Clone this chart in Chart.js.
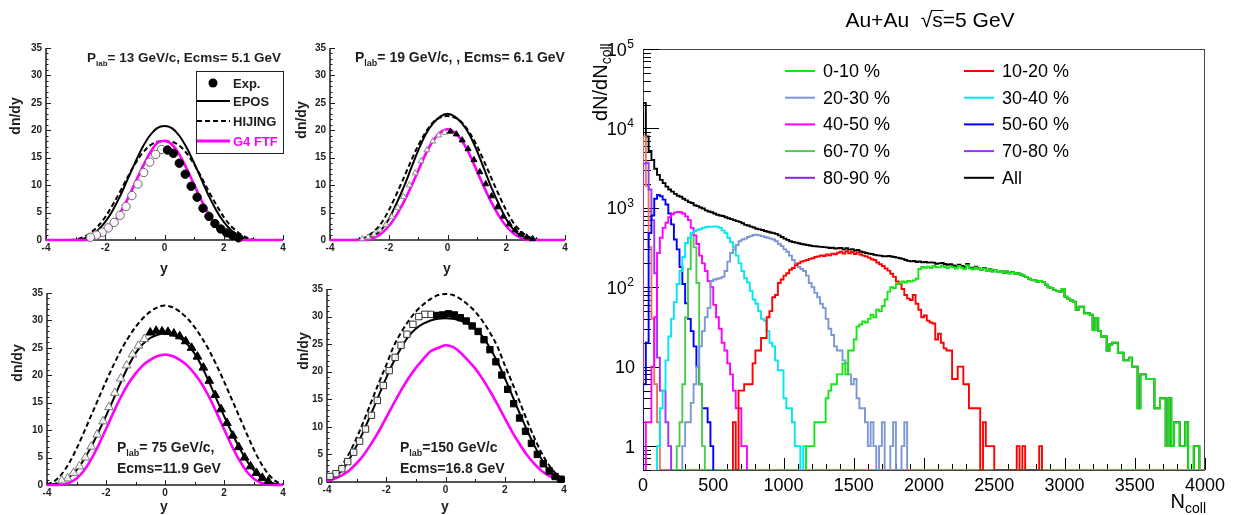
<!DOCTYPE html>
<html>
<head>
<meta charset="utf-8">
<script src="https://cdn.jsdelivr.net/npm/chart.js@4.4.1/dist/chart.umd.min.js"></script>
<style>
  html, body { margin: 0; padding: 0; background: #fff; }
  #wrap { position: relative; width: 1236px; height: 515px; overflow: hidden; }
  canvas { position: absolute; left: 0; top: 0; }
</style>
</head>
<body>
<div id="wrap">
  <canvas id="c1" width="1236" height="515"></canvas>
  <canvas id="c2" width="1236" height="515"></canvas>
  <canvas id="c3" width="1236" height="515"></canvas>
  <canvas id="c4" width="1236" height="515"></canvas>
  <canvas id="c5" width="1236" height="515"></canvas>
</div>
<script>
// ---------- left panels: dn/dy vs y ----------
const Y_GRID = [-4, -3.75, -3.5, -3.25, -3, -2.75, -2.5, -2.25, -2, -1.75, -1.5, -1.25, -1, -0.75, -0.5, -0.25, 0,
  0.25, 0.5, 0.75, 1, 1.25, 1.5, 1.75, 2, 2.25, 2.5, 2.75, 3, 3.25, 3.5, 3.75, 4];
const DNDY_TICKS = [0, 5, 10, 15, 20, 25, 30, 35];
const RAP_TICKS = [-4, -2, 0, 2, 4];

// Plab = 13 GeV/c
const p1Epos   = [0, 0, 0, 0, 0, 0.2, 0.8, 1.8, 3.3, 5.4, 8.0, 11.0, 14.0, 16.8, 19.0, 20.4, 20.8, 20.4, 19.0, 16.8, 14.0, 11.0, 8.0, 5.4, 3.3, 1.8, 0.8, 0.2, 0, 0, 0, 0, 0];
const p1Hijing = [0, 0, 0, 0, 0.1, 0.5, 1.3, 2.5, 4.2, 6.4, 8.8, 11.4, 13.8, 15.8, 17.2, 17.9, 18.0, 17.9, 17.2, 15.8, 13.8, 11.4, 8.8, 6.4, 4.2, 2.5, 1.3, 0.5, 0.1, 0, 0, 0, 0];
const p1G4     = [0, 0, 0, 0, 0, 0, 0.1, 0.6, 1.5, 2.9, 4.9, 7.4, 10.3, 13.2, 15.8, 17.7, 18.1, 17.4, 15.6, 13.0, 10.1, 7.2, 4.7, 2.8, 1.4, 0.5, 0.1, 0, 0, 0, 0, 0, 0];
const p1FilledX = [0.1, 0.3, 0.5, 0.7, 0.9, 1.1, 1.3, 1.5, 1.7, 1.9, 2.1, 2.3, 2.5];
const p1Filled  = [16.4, 15.8, 14.0, 12.0, 9.8, 7.8, 5.8, 4.3, 3.0, 2.0, 1.3, 0.8, 0.4];
const p1OpenX   = [-0.1, -0.3, -0.5, -0.7, -0.9, -1.1, -1.3, -1.5, -1.7, -1.9, -2.1, -2.3, -2.5];
const p1Open    = [16.5, 15.6, 14.2, 12.3, 10.2, 8.1, 6.1, 4.5, 3.2, 2.2, 1.4, 0.9, 0.5];

// Plab = 19 GeV/c
const p2Epos   = [0, 0, 0, 0, 0, 0.25, 0.8, 1.9, 3.8, 6.5, 9.5, 12.9, 16.3, 19.2, 21.2, 22.5, 23.0, 22.5, 21.2, 19.2, 16.3, 12.9, 9.5, 6.5, 3.8, 1.9, 0.8, 0.25, 0, 0, 0, 0, 0];
const p2Hijing = [0, 0, 0, 0, 0.15, 0.6, 1.6, 3.1, 5.4, 8.2, 11.2, 14.3, 17.2, 19.6, 21.4, 22.3, 22.6, 22.3, 21.4, 19.6, 17.2, 14.3, 11.2, 8.2, 5.4, 3.1, 1.6, 0.6, 0.15, 0, 0, 0, 0];
const p2G4     = [0, 0, 0, 0, 0, 0, 0.4, 1.2, 2.5, 4.4, 6.8, 9.6, 12.6, 15.6, 18.0, 19.6, 20.2, 19.6, 18.0, 15.6, 12.6, 9.6, 6.8, 4.4, 2.5, 1.2, 0.4, 0, 0, 0, 0, 0, 0];
const p2FilledX = [0.1, 0.3, 0.5, 0.7, 0.9, 1.1, 1.3, 1.5, 1.7, 1.9, 2.1, 2.3, 2.5, 2.7, 2.9];
const p2Filled  = [19.8, 19.3, 18.2, 16.6, 14.6, 12.4, 10.2, 8.0, 6.0, 4.3, 2.9, 1.8, 1.0, 0.5, 0.2];
const p2OpenX   = [-0.1, -0.3, -0.5, -0.7, -0.9, -1.1, -1.3, -1.5, -1.7, -1.9, -2.1, -2.3, -2.5, -2.7, -2.9];
const p2Open    = [19.6, 19.1, 18.0, 16.4, 14.4, 12.2, 10.0, 7.9, 5.9, 4.2, 2.8, 1.8, 1.0, 0.5, 0.2];

// Plab = 75 GeV/c
const p3Epos   = [0, 0.2, 0.6, 1.4, 2.7, 4.6, 7.0, 9.7, 12.6, 15.6, 18.7, 21.6, 24.0, 25.7, 26.8, 27.4, 27.6, 27.4, 26.8, 25.7, 24.0, 21.6, 18.7, 15.6, 12.6, 9.7, 7.0, 4.6, 2.7, 1.4, 0.6, 0.2, 0];
const p3Hijing = [0.1, 0.7, 2.0, 4.0, 6.6, 9.6, 12.7, 15.8, 18.9, 21.8, 24.5, 26.8, 28.8, 30.4, 31.6, 32.4, 32.7, 32.4, 31.6, 30.4, 28.8, 26.8, 24.5, 21.8, 18.9, 15.8, 12.7, 9.6, 6.6, 4.0, 2.0, 0.7, 0.1];
const p3G4     = [0, 0, 0.1, 0.4, 1.2, 2.6, 4.7, 7.3, 10.2, 13.2, 16.0, 18.4, 20.3, 21.8, 22.8, 23.5, 23.8, 23.5, 22.8, 21.8, 20.3, 18.4, 16.0, 13.2, 10.2, 7.3, 4.7, 2.6, 1.2, 0.4, 0.1, 0, 0];
const p3FilledX = [-0.5, -0.3, -0.1, 0.1, 0.3, 0.5, 0.7, 0.9, 1.1, 1.3, 1.5, 1.7, 1.9, 2.1, 2.3, 2.5, 2.7, 2.9, 3.1, 3.3, 3.5];
const p3Filled  = [27.8, 28.1, 28.0, 27.9, 27.6, 27.1, 26.2, 25.0, 23.4, 21.4, 19.0, 16.4, 13.8, 11.3, 9.0, 6.9, 5.0, 3.4, 2.2, 1.3, 0.7];
const p3OpenX   = [-0.7, -0.9, -1.1, -1.3, -1.5, -1.7, -1.9, -2.1, -2.3, -2.5, -2.7, -2.9, -3.1, -3.3, -3.5];
const p3Open    = [26.6, 25.4, 23.8, 21.8, 19.4, 16.8, 14.2, 11.6, 9.2, 7.0, 5.0, 3.4, 2.2, 1.2, 0.8];

// Plab = 150 GeV/c
const p4Epos   = [0.2, 0.8, 2.1, 4.1, 6.6, 9.4, 12.5, 15.7, 18.9, 21.8, 24.3, 26.4, 27.8, 28.7, 29.3, 29.6, 29.7, 29.6, 29.3, 28.7, 27.8, 26.4, 24.3, 21.8, 18.9, 15.7, 12.5, 9.4, 6.6, 4.1, 2.1, 0.8, 0.2];
const p4Hijing = [0.5, 1.4, 3.0, 5.2, 8.0, 11.2, 14.6, 18.0, 21.2, 24.6, 27.1, 29.2, 30.9, 32.2, 33.2, 33.9, 34.1, 33.9, 33.2, 32.2, 30.9, 29.2, 27.1, 24.6, 21.2, 18.0, 14.6, 11.2, 8.0, 5.2, 3.0, 1.4, 0.5];
const p4G4     = [0.2, 0.6, 1.2, 2.1, 3.4, 5.0, 7.0, 9.2, 11.7, 14.2, 16.6, 18.8, 20.7, 22.3, 23.7, 24.3, 24.8, 24.5, 23.5, 22.1, 20.6, 18.7, 16.5, 14.1, 11.6, 9.1, 6.9, 4.9, 3.3, 2.0, 1.1, 0.5, 0.2];
const p4FilledX = [-0.3, -0.1, 0.1, 0.3, 0.5, 0.7, 0.9, 1.1, 1.3, 1.5, 1.7, 1.9, 2.1, 2.3, 2.5, 2.7, 2.9, 3.1, 3.3, 3.5, 3.7, 3.9];
const p4Filled  = [30.2, 30.3, 30.5, 30.3, 29.8, 29.2, 28.3, 27.3, 25.8, 24.0, 21.8, 19.4, 16.8, 14.2, 11.6, 9.2, 7.0, 5.0, 3.3, 2.0, 1.0, 0.5];
const p4OpenX   = [-0.5, -0.7, -0.9, -1.1, -1.3, -1.5, -1.7, -1.9, -2.1, -2.3, -2.5, -2.7, -2.9, -3.1, -3.3, -3.5, -3.7, -3.9];
const p4Open    = [30.4, 30.4, 30.0, 28.6, 26.8, 24.8, 22.6, 20.2, 17.5, 14.8, 12.1, 9.6, 7.4, 5.4, 3.7, 2.4, 1.5, 1.0];

// ---------- right panel: dN/dNcoll histograms, 20-wide bins ----------
const BIN = 20;
const FLOOR = 0.5;
const NCOLL_TICKS = [0, 500, 1000, 1500, 2000, 2500, 3000, 3500, 4000];
const LOG_TICKS = [1, 10, 100, 1000, 10000, 100000];

const allStart = 0;
const allVals = [
  21000, 7900, 5200, 4000, 3100, 2600, 2250, 2050, 1850, 1700,
  1600, 1500, 1420, 1380, 1300, 1240, 1180, 1150, 1080, 1050,
  1010, 980, 930, 900, 880, 850, 820, 800, 790, 760,
  740, 720, 700, 680, 665, 640, 610, 600, 580, 565,
  545, 535, 525, 510, 500, 490, 480, 470, 450, 430,
  410, 395, 380, 372, 365, 358, 350, 345, 340, 335,
  330, 328, 325, 322, 320, 318, 312, 315, 308, 310,
  312, 300, 310, 298, 302, 290, 295, 282, 276, 270,
  265, 262, 256, 252, 250, 246, 245, 248, 244, 240,
  236, 232, 228, 220, 215, 212, 214, 208, 212, 206,
  208, 204, 206, 204, 198, 200, 202, 196, 192, 195,
  188, 184, 192, 186, 180, 196, 176, 172, 181, 173,
  166, 175, 161, 169, 159, 165, 155, 160, 152, 158,
  150, 155, 148, 150, 145, 140, 135, 128, 124, 122,
  118, 120, 117, 108, 100, 98, 92, 90, 88, 95,
  76, 72, 68, 66, 52, 57, 57, 47, 47, 45,
  29, 41, 28, 24, 24, 16, 19, 20, 20, 15,
  15, 12, 12, 13, 10, 10, 3, 8, 8, 7,
  7, 7, 3, 3, 4, 4, 1, 4, 1, 2,
  2, 1, 1, 2, 0, 0, 1, 1];

const c0010Start = 1160;
const c0010 = [
  1, 1, 1, 2, 2, 2, 2, 4, 5, 6,
  6, 8, 8, 11, 8, 16, 16, 22, 32, 34,
  37, 36, 40, 45, 42, 52, 50, 58, 70, 88,
  100, 98, 110, 112, 118, 115, 120, 118, 122, 128,
  170, 180, 176, 182, 175, 185, 180, 178, 186, 180,
  175, 183, 178, 172, 185, 176, 170, 190, 172, 168,
  178, 170, 165, 172, 160, 168, 158, 165, 155, 160,
  152, 158, 150, 155, 148, 150, 145, 140, 135, 128,
  124, 122, 118, 120, 117, 108, 100, 98, 92, 90,
  88, 95, 76, 72, 68, 66, 52, 57, 57, 47,
  47, 45, 29, 41, 28, 24, 24, 16, 19, 20,
  20, 15, 15, 12, 12, 13, 10, 10, 3, 8,
  8, 7, 7, 7, 3, 3, 4, 4, 1, 4,
  1, 2, 2, 1, 1, 2, 0, 0, 1, 1];

const c1020Start = 640;
const c1020 = [
  2, 0, 5, 5, 6, 6, 6, 11, 16, 16,
  23, 23, 42, 50, 75, 80, 113, 125, 140, 150,
  166, 175, 190, 200, 210, 215, 220, 228, 232, 240,
  245, 252, 248, 258, 252, 265, 260, 272, 280, 265,
  285, 268, 280, 262, 275, 258, 250, 245, 236, 225,
  220, 205, 195, 185, 172, 162, 148, 135, 118, 110,
  95, 80, 72, 69, 80, 62, 52, 42, 44, 38,
  36, 35, 22, 26, 20, 17, 16, 16, 7, 7,
  10, 10, 6, 6, 3, 3, 3, 3, 0, 2,
  1, 1, 1, 0, 0, 0, 0, 0, 0, 0,
  0, 1, 0, 1, 0, 0, 0, 0, 0, 1];

const c2030Start = 280;
const c2030 = [
  1, 2, 2, 3.5, 6, 10, 18, 28, 42, 55,
  120, 125, 128, 130, 135, 160, 210, 270, 300, 340,
  380, 400, 410, 430, 440, 455, 460, 450, 440, 430,
  420, 410, 400, 380, 350, 330, 300, 280, 250, 220,
  200, 180, 170, 160, 140, 113, 100, 85, 75, 62,
  55, 40, 30, 25, 18, 16, 16, 12, 11, 8,
  6, 7, 4, 3, 3, 2, 1, 2, 1, 0,
  1, 2, 0, 0, 1, 2, 0, 0, 1, 2];

const c3040Start = 100;
const c3040 = [
  1, 3, 5, 12, 24, 40, 65, 110, 160, 240,
  360, 420, 480, 510, 530, 540, 560, 570, 580, 575,
  585, 580, 560, 520, 480, 420, 370, 320, 250, 200,
  160, 130, 115, 90, 70, 62, 50, 40, 38, 28,
  20, 18, 12, 9, 9, 4, 3, 3, 2, 1,
  1, 0, 1];

const c4050Start = 20;
const c4050 = [
  2, 2, 10, 42, 270, 420, 560, 650, 760, 830,
  870, 890, 880, 850, 780, 700, 560, 450, 350, 250,
  200, 160, 120, 100, 60, 42, 30, 20, 16, 11,
  8, 5, 3, 3, 1, 1];

const c5060Start = 0;
const c5060 = [
  6, 20, 480, 800, 1300, 1450, 1400, 1270, 1100, 850,
  620, 400, 300, 180, 110, 63, 40, 28, 18, 10,
  6, 3, 3, 2, 1];

const c6070Start = 240;
const c6070 = [1, 2, 6, 42, 170, 480, 320, 113, 6, 1];

const c7080Start = 0;
const c7080 = [3600, 3700, 1700, 700, 150, 13, 5, 5, 2, 1];

const c90Start = 0;
const c90 = [7900, 1900, 320, 40, 6, 2];

const legendLabels = ['0-10 %', '10-20 %', '20-30 %', '30-40 %', '40-50 %', '50-60 %', '60-70 %', '70-80 %', '80-90 %', 'All'];
const legendColors = ['#14e814', '#ff0000', '#7b97d4', '#00e8f0', '#ff00ff', '#0000ff', '#4ccc4c', '#9933ff', '#8a22ee', '#000000'];

// ---------- helpers ----------
const FONT = '"Liberation Sans", Arial, Helvetica, sans-serif';
const W = 1236, H = 515;

function pts(xs, ys) { return xs.map((x, i) => ({ x, y: ys[i] })); }

function histPoints(start, vals, end) {
  const out = [{ x: start, y: FLOOR }];
  vals.forEach((v, i) => out.push({ x: start + i * BIN, y: v > 0 ? v : FLOOR }));
  const stop = start + vals.length * BIN;
  out.push({ x: stop, y: FLOOR });
  if (end && end > stop) out.push({ x: end, y: FLOOR });
  return out;
}

function drawPlab(ctx, x, y, size, rest) {
  ctx.font = `bold ${size}px ${FONT}`;
  ctx.fillText('P', x, y);
  let w = ctx.measureText('P').width;
  ctx.font = `bold ${Math.round(size * 0.62)}px ${FONT}`;
  ctx.fillText('lab', x + w, y + size * 0.3);
  w += ctx.measureText('lab').width;
  ctx.font = `bold ${size}px ${FONT}`;
  ctx.fillText(rest, x + w, y);
}

function panelDecor(spec) {
  return {
    id: 'panelDecor',
    beforeDatasetsDraw(chart) {
      const { ctx, chartArea: a, scales: { x, y } } = chart;
      ctx.save();
      ctx.strokeStyle = '#1e1e1e';
      ctx.lineWidth = 1.5;
      ctx.beginPath();
      ctx.moveTo(a.left, a.top);
      ctx.lineTo(a.left, a.bottom);
      ctx.lineTo(a.right, a.bottom);
      ctx.stroke();
      ctx.lineWidth = 1;
      ctx.beginPath();
      for (let v = 0; v <= 35; v++) {
        const py = Math.round(y.getPixelForValue(v)) + 0.5;
        const len = v % 5 === 0 ? 5 : 2.5;
        ctx.moveTo(a.left, py);
        ctx.lineTo(a.left + len, py);
      }
      for (let v = -4; v <= 4; v++) {
        const px = Math.round(x.getPixelForValue(v)) + 0.5;
        const len = v % 2 === 0 ? 5 : 3;
        ctx.moveTo(px, a.bottom);
        ctx.lineTo(px, a.bottom - len);
      }
      ctx.stroke();
      ctx.restore();
    },
    afterDraw(chart) {
      const { ctx, chartArea: a, scales: { x, y } } = chart;
      ctx.save();
      ctx.fillStyle = '#1e1e1e';
      ctx.font = `bold 10px ${FONT}`;
      ctx.textAlign = 'right';
      ctx.textBaseline = 'middle';
      DNDY_TICKS.forEach(v => ctx.fillText(String(v), a.left - 4, y.getPixelForValue(v)));
      ctx.textAlign = 'center';
      ctx.textBaseline = 'top';
      RAP_TICKS.forEach(v => ctx.fillText(String(v), x.getPixelForValue(v), a.bottom + 3));

      // axis titles
      ctx.font = `bold 14px ${FONT}`;
      ctx.textBaseline = 'middle';
      ctx.fillText('y', spec.xTitle[0], spec.xTitle[1]);
      ctx.save();
      ctx.translate(spec.yTitle[0], spec.yTitle[1]);
      ctx.rotate(-Math.PI / 2);
      ctx.fillText('dn/dy', 0, 0);
      ctx.restore();

      // energy labels
      ctx.textAlign = 'left';
      ctx.textBaseline = 'alphabetic';
      spec.text.forEach(t => {
        if (t.plab) drawPlab(ctx, t.x, t.y, t.size, t.rest);
        else { ctx.font = `bold ${t.size}px ${FONT}`; ctx.fillText(t.rest, t.x, t.y); }
      });

      if (spec.legend) {
        ctx.strokeStyle = '#222';
        ctx.lineWidth = 1;
        ctx.strokeRect(196.5, 71.5, 87, 82);
        ctx.fillStyle = '#000';
        ctx.beginPath();
        ctx.arc(213, 83, 4.5, 0, Math.PI * 2);
        ctx.fill();
        const rows = [
          { y: 101, color: '#000', dash: [], w: 2.2 },
          { y: 121, color: '#000', dash: [5, 3], w: 2.2 },
          { y: 141, color: '#ff00ff', dash: [], w: 3 }];
        rows.forEach(r => {
          ctx.strokeStyle = r.color;
          ctx.lineWidth = r.w;
          ctx.setLineDash(r.dash);
          ctx.beginPath();
          ctx.moveTo(197, r.y);
          ctx.lineTo(230, r.y);
          ctx.stroke();
        });
        ctx.setLineDash([]);
        ctx.font = `bold 13px ${FONT}`;
        ctx.textBaseline = 'middle';
        ctx.fillStyle = '#1e1e1e';
        ctx.fillText('Exp.', 233, 84);
        ctx.fillText('EPOS', 233, 102);
        ctx.fillText('HIJING', 233, 122);
        ctx.fillStyle = '#ff00ff';
        ctx.fillText('G4 FTF', 233, 142);
      }
      ctx.restore();
    }
  };
}

function makePanel(spec) {
  const [L, T, R, B] = spec.area;
  const m = spec.marker;
  new Chart(document.getElementById(spec.canvas), {
    type: 'scatter',
    data: {
      datasets: [
        { data: pts(spec.filledX, spec.filled), pointStyle: m.style, pointRadius: m.r,
          backgroundColor: '#000', borderColor: '#000', borderWidth: 1, clip: false },
        { data: pts(spec.openX, spec.open), pointStyle: m.style, pointRadius: m.r,
          backgroundColor: 'rgba(255,255,255,0.9)', borderColor: m.openColor, borderWidth: 1, clip: false },
        { data: pts(Y_GRID, spec.g4), showLine: true, pointRadius: 0, borderColor: '#ff00ff', borderWidth: 2.6, clip: false },
        { data: pts(Y_GRID, spec.epos), showLine: true, pointRadius: 0, borderColor: '#000', borderWidth: 2, clip: false },
        { data: pts(Y_GRID, spec.hijing), showLine: true, pointRadius: 0, borderColor: '#000', borderWidth: 2,
          borderDash: [5, 3], clip: false }
      ]
    },
    options: {
      animation: false, responsive: false, devicePixelRatio: 1,
      layout: { padding: { left: L, top: T, right: W - R, bottom: H - B } },
      elements: { line: { cubicInterpolationMode: 'monotone' } },
      scales: {
        x: { type: 'linear', min: -4, max: 4, display: false },
        y: { type: 'linear', min: 0, max: 35, display: false }
      },
      plugins: { legend: { display: false }, tooltip: { enabled: false } }
    },
    plugins: [panelDecor(spec)]
  });
}

makePanel({
  canvas: 'c1', area: [46, 48, 283, 240],
  epos: p1Epos, hijing: p1Hijing, g4: p1G4,
  filledX: p1FilledX, filled: p1Filled, openX: p1OpenX, open: p1Open,
  marker: { style: 'circle', r: 4.2, openColor: '#666' },
  yTitle: [16, 116], xTitle: [164, 269],
  text: [{ plab: true, x: 87, y: 62, size: 13.5, rest: '= 13 GeV/c, Ecms= 5.1 GeV' }],
  legend: true
});
makePanel({
  canvas: 'c2', area: [330, 48, 565, 240],
  epos: p2Epos, hijing: p2Hijing, g4: p2G4,
  filledX: p2FilledX, filled: p2Filled, openX: p2OpenX, open: p2Open,
  marker: { style: 'triangle', r: 3.5, openColor: '#888' },
  yTitle: [302, 120], xTitle: [447, 269],
  text: [{ plab: true, x: 355, y: 62, size: 14, rest: '= 19 GeV/c, , Ecms= 6.1 GeV' }]
});
makePanel({
  canvas: 'c3', area: [47, 293, 283, 485],
  epos: p3Epos, hijing: p3Hijing, g4: p3G4,
  filledX: p3FilledX, filled: p3Filled, openX: p3OpenX, open: p3Open,
  marker: { style: 'triangle', r: 5, openColor: '#777' },
  yTitle: [18, 363], xTitle: [164, 507],
  text: [{ plab: true, x: 117, y: 452, size: 14, rest: '= 75 GeV/c,' },
         { plab: false, x: 117, y: 473, size: 14, rest: 'Ecms=11.9 GeV' }]
});
makePanel({
  canvas: 'c4', area: [327, 289, 564, 482],
  epos: p4Epos, hijing: p4Hijing, g4: p4G4,
  filledX: p4FilledX, filled: p4Filled, openX: p4OpenX, open: p4Open,
  marker: { style: 'rect', r: 4.5, openColor: '#333' },
  yTitle: [304, 351], xTitle: [445, 507],
  text: [{ plab: true, x: 400, y: 452, size: 14, rest: '=150 GeV/c' },
         { plab: false, x: 400, y: 473, size: 14, rest: 'Ecms=16.8 GeV' }]
});

// ---------- right panel ----------
const rightDecor = {
  id: 'rightDecor',
  beforeDatasetsDraw(chart) {
    const { ctx, chartArea: a, scales: { x, y } } = chart;
    ctx.save();
    ctx.strokeStyle = '#444';
    ctx.lineWidth = 1;
    ctx.strokeRect(a.left + 0.5, a.top + 0.5, a.right - a.left - 1, a.bottom - a.top);
    ctx.strokeStyle = '#000';
    ctx.beginPath();
    for (let n = 0; n <= 4000; n += 100) {
      const px = Math.round(x.getPixelForValue(n)) + 0.5;
      const len = n % 500 === 0 ? 12 : 6;
      ctx.moveTo(px, a.bottom);
      ctx.lineTo(px, a.bottom - len);
    }
    for (let k = -1; k <= 4; k++) {
      for (let m = 1; m <= 9; m++) {
        const v = m * Math.pow(10, k);
        if (v < FLOOR || v > 1e5) continue;
        const py = Math.round(y.getPixelForValue(v)) + 0.5;
        const len = m === 1 ? 16 : 8;
        ctx.moveTo(a.left, py);
        ctx.lineTo(a.left + len, py);
      }
    }
    const top = Math.round(y.getPixelForValue(1e5)) + 0.5;
    ctx.moveTo(a.left, top);
    ctx.lineTo(a.left + 16, top);
    ctx.stroke();
    ctx.restore();
  },
  afterDraw(chart) {
    const { ctx, chartArea: a, scales: { x, y } } = chart;
    ctx.save();
    ctx.fillStyle = '#000';
    ctx.textBaseline = 'alphabetic';

    // x tick labels
    ctx.font = `18px ${FONT}`;
    ctx.textAlign = 'center';
    NCOLL_TICKS.forEach(n => ctx.fillText(String(n), x.getPixelForValue(n), 491));

    // y tick labels with superscripts
    ctx.textAlign = 'right';
    LOG_TICKS.forEach(v => {
      const py = y.getPixelForValue(v);
      const e = Math.round(Math.log10(v));
      if (e <= 1) {
        ctx.font = `18px ${FONT}`;
        ctx.fillText(String(v), 635, py + 6.5);
      } else {
        ctx.font = `12px ${FONT}`;
        ctx.fillText(String(e), 634, py - 1);
        const w = ctx.measureText(String(e)).width;
        ctx.font = `18px ${FONT}`;
        ctx.fillText('10', 634 - w - 0.5, py + 6.5);
      }
    });

    // x title N_coll
    ctx.font = `14px ${FONT}`;
    ctx.fillText('coll', 1206, 513);
    const wc = ctx.measureText('coll').width;
    ctx.font = `20px ${FONT}`;
    ctx.fillText('N', 1206 - wc, 508);

    // y title dN/dN_coll
    ctx.save();
    ctx.translate(607, 121);
    ctx.rotate(-Math.PI / 2);
    ctx.textAlign = 'left';
    ctx.font = `20px ${FONT}`;
    ctx.fillText('dN/dN', 0, 0);
    const wd = ctx.measureText('dN/dN').width;
    ctx.font = `14px ${FONT}`;
    ctx.fillText('coll', wd, 4);
    ctx.restore();

    // title
    const title = 'Au+Au  \u221As=5 GeV';
    ctx.font = `21px ${FONT}`;
    ctx.textAlign = 'left';
    const tw = ctx.measureText(title).width;
    const tx = 930 - tw / 2;
    ctx.fillText(title, tx, 27);
    const xs = tx + ctx.measureText('Au+Au  \u221A').width;
    const ws = ctx.measureText('s').width;
    ctx.strokeStyle = '#000';
    ctx.lineWidth = 1;
    ctx.beginPath();
    ctx.moveTo(xs - 1, 10.5);
    ctx.lineTo(xs + ws + 0.5, 10.5);
    ctx.stroke();

    // legend, two columns
    ctx.font = `18px ${FONT}`;
    ctx.textBaseline = 'middle';
    legendLabels.forEach((lab, i) => {
      const col = i % 2, row = Math.floor(i / 2);
      const ly = 71 + row * 26.7;
      const x1 = col === 0 ? 785 : 964;
      ctx.strokeStyle = legendColors[i];
      ctx.lineWidth = 2;
      ctx.beginPath();
      ctx.moveTo(x1, ly);
      ctx.lineTo(x1 + 30, ly);
      ctx.stroke();
      ctx.fillStyle = '#000';
      ctx.fillText(lab, x1 + 38, ly + 1);
    });
    ctx.restore();
  }
};

const hists = [
  { start: c0010Start, vals: c0010, color: legendColors[0] },
  { start: c1020Start, vals: c1020, color: legendColors[1] },
  { start: c2030Start, vals: c2030, color: legendColors[2] },
  { start: c3040Start, vals: c3040, color: legendColors[3] },
  { start: c4050Start, vals: c4050, color: legendColors[4] },
  { start: c6070Start, vals: c6070, color: legendColors[6] },
  { start: c5060Start, vals: c5060, color: legendColors[5] },
  { start: c7080Start, vals: c7080, color: legendColors[7] },
  { start: c90Start, vals: c90, color: '#e8735f', end: 4000 },
  { start: allStart, vals: allVals, color: legendColors[9] }
];

new Chart(document.getElementById('c5'), {
  type: 'line',
  data: {
    datasets: hists.map(h => ({
      data: histPoints(h.start, h.vals, h.end),
      borderColor: h.color,
      borderWidth: 1.9,
      stepped: 'before',
      pointRadius: 0,
      fill: false
    }))
  },
  options: {
    animation: false, responsive: false, devicePixelRatio: 1,
    layout: { padding: { left: 643, top: 49, right: W - 1205, bottom: H - 470 } },
    scales: {
      x: { type: 'linear', min: 0, max: 4000, display: false },
      y: { type: 'logarithmic', min: FLOOR, max: 1e5, display: false }
    },
    plugins: { legend: { display: false }, tooltip: { enabled: false } }
  },
  plugins: [rightDecor]
});
</script>
</body>
</html>
